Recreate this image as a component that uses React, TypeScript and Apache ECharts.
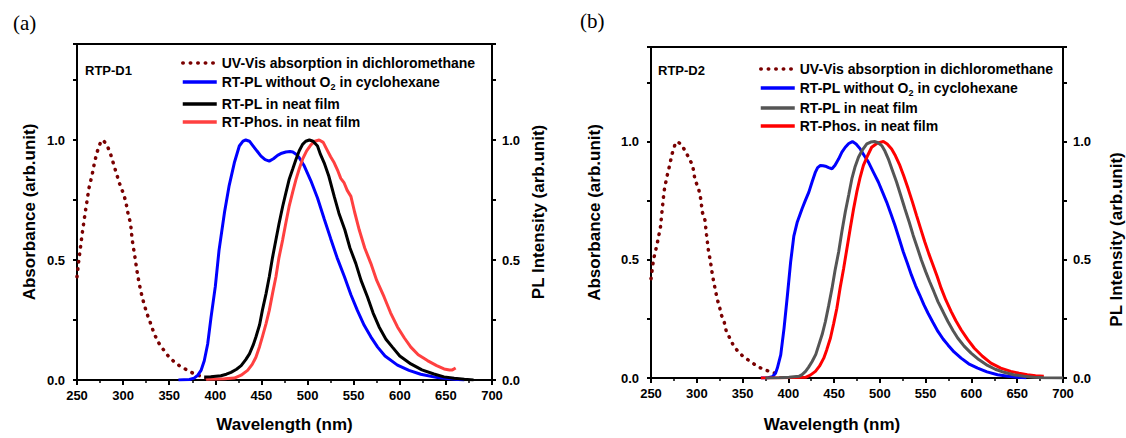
import { useEffect, useRef } from 'react';
import * as echarts from 'echarts';

// ---------- tick labels / names ----------
const yTickLabels = ['0.0', '0.5', '1.0'];
const legendNames = [
  'UV-Vis absorption in dichloromethane',
  'RT-PL without O2 in cyclohexane',
  'RT-PL in neat film',
  'RT-Phos. in neat film',
];
const panelLabels = ['(a)', '(b)'];
const sampleNames = ['RTP-D1', 'RTP-D2'];

// ---------- panel (a) data ----------
const aUvX = [250, 252, 254, 256, 259, 263, 266.4, 269, 271.5, 274, 276, 278, 281.5, 284, 286.5, 292, 296, 300, 302.8, 306, 308, 309.8, 312.5, 314.8, 317.5, 321, 324, 326, 328.5, 331, 334, 339, 343, 348.5, 355, 362, 370, 377.5, 384, 390];
const aUvY = [0.43, 0.5, 0.56, 0.62, 0.7, 0.8, 0.855, 0.906, 0.946, 0.975, 0.995, 1.0, 0.985, 0.965, 0.94, 0.87, 0.82, 0.78, 0.745, 0.68, 0.656, 0.585, 0.52, 0.46, 0.4, 0.34, 0.3, 0.275, 0.25, 0.222, 0.19, 0.152, 0.13, 0.102, 0.077, 0.057, 0.04, 0.025, 0.016, 0.008];

const aBlueX = [360, 372, 377, 381, 384.5, 388, 391.7, 395.3, 400, 404, 410, 415, 420.6, 426, 430, 433, 437, 440, 445, 449.5, 454, 458.5, 463, 467.5, 472, 476.5, 481, 484, 488, 491, 496, 503.6, 510.8, 518, 525, 532, 540, 547, 554, 561.4, 568.6, 576, 584, 597.5, 610, 622.7, 640.8, 660, 670];
const aBlueY = [0, 0.002, 0.008, 0.02, 0.04, 0.08, 0.15, 0.26, 0.39, 0.54, 0.7, 0.81, 0.905, 0.975, 0.995, 1.0, 0.995, 0.98, 0.955, 0.933, 0.918, 0.912, 0.922, 0.936, 0.945, 0.95, 0.952, 0.95, 0.94, 0.926, 0.895, 0.83, 0.758, 0.672, 0.59, 0.51, 0.43, 0.355, 0.29, 0.228, 0.18, 0.137, 0.1, 0.062, 0.04, 0.024, 0.01, 0.003, 0];

const aBlackX = [388, 395, 406, 412, 417, 423, 428, 433, 437, 441, 444, 448, 451, 455, 458.5, 462, 465.7, 469, 473, 476.5, 480, 484, 487.4, 491, 494.6, 498, 502, 506, 510.8, 514, 518, 523, 528.9, 534, 540.4, 546, 552.3, 558, 565, 571, 577.6, 585, 592, 600, 612, 624, 637, 648, 659, 670, 680];
const aBlackY = [0.012, 0.014, 0.018, 0.024, 0.032, 0.045, 0.06, 0.085, 0.109, 0.145, 0.179, 0.23, 0.29, 0.36, 0.43, 0.51, 0.584, 0.65, 0.723, 0.78, 0.835, 0.88, 0.919, 0.955, 0.982, 0.995, 1.0, 0.995, 0.975, 0.94, 0.905, 0.85, 0.765, 0.695, 0.626, 0.55, 0.486, 0.415, 0.346, 0.28, 0.221, 0.17, 0.137, 0.1, 0.067, 0.042, 0.025, 0.013, 0.007, 0.003, 0];

const aRedX = [390, 400, 410, 420.6, 428, 435, 440, 444, 448, 451, 455, 458.5, 462, 465.7, 469, 473, 476.5, 480, 484, 487.4, 491, 494.6, 499, 503.6, 508, 512.6, 517, 521, 525, 528.9, 533, 536, 539.7, 543, 547, 551, 556, 562, 568.6, 575, 583, 590, 597.5, 605, 612, 620, 630, 640, 648, 654, 657, 660.6];
const aRedY = [0.003, 0.004, 0.005, 0.008, 0.02, 0.04, 0.065, 0.095, 0.14, 0.18, 0.235, 0.29, 0.36, 0.43, 0.51, 0.584, 0.655, 0.723, 0.785, 0.835, 0.88, 0.92, 0.955, 0.98, 0.995, 1.0, 0.99, 0.96, 0.93, 0.905, 0.87, 0.84, 0.821, 0.79, 0.765, 0.7, 0.626, 0.55, 0.486, 0.415, 0.346, 0.28, 0.221, 0.175, 0.137, 0.105, 0.081, 0.06, 0.046, 0.042, 0.042, 0.05];

// ---------- panel (b) data ----------
const bUvX = [250, 252.7, 256.5, 260.4, 262.4, 264.3, 267, 270, 273.2, 276, 278.6, 282.5, 287.5, 291.4, 295.4, 298, 302, 304.2, 306.2, 308.9, 310.7, 312.8, 314.6, 317.3, 320.5, 322.4, 325, 326.9, 330, 332, 336, 340, 345.4, 351.4, 359.2, 367, 375.5, 382.5, 390];
const bUvY = [0.42, 0.5, 0.563, 0.64, 0.72, 0.79, 0.845, 0.894, 0.95, 0.985, 1.0, 0.99, 0.96, 0.93, 0.9, 0.84, 0.8, 0.76, 0.7, 0.668, 0.605, 0.536, 0.5, 0.431, 0.368, 0.333, 0.298, 0.266, 0.236, 0.201, 0.169, 0.138, 0.11, 0.089, 0.068, 0.047, 0.033, 0.024, 0.015];

const bBlueX = [370, 378, 382.6, 386, 388, 391.7, 395.3, 399, 402.5, 406, 409.8, 415, 418.5, 422.4, 426, 429.6, 432, 435, 438, 440.5, 444, 447.7, 451, 455, 458.5, 462.2, 466, 470, 474, 478.5, 483, 487.5, 493, 498.3, 503, 507.4, 512, 516.4, 521, 525.5, 530, 534.5, 539, 543.5, 548, 552.6, 558, 563.4, 569, 574.3, 581, 588.7, 597, 606.8, 617, 628.5, 640, 650, 660];
const bBlueY = [0, 0.001, 0.005, 0.02, 0.042, 0.098, 0.21, 0.35, 0.49, 0.6, 0.66, 0.716, 0.75, 0.786, 0.83, 0.871, 0.89, 0.899, 0.898, 0.896, 0.89, 0.885, 0.9, 0.927, 0.955, 0.976, 0.992, 1.0, 0.99, 0.969, 0.94, 0.913, 0.87, 0.829, 0.785, 0.744, 0.695, 0.646, 0.59, 0.534, 0.485, 0.435, 0.39, 0.351, 0.31, 0.274, 0.235, 0.197, 0.165, 0.14, 0.11, 0.084, 0.06, 0.042, 0.026, 0.014, 0.007, 0.003, 0.001];

const bGreyX = [375, 390, 400.7, 411.6, 415, 418.8, 422, 426, 430, 433.3, 437, 440.5, 444, 447.7, 451, 455, 458.5, 462.2, 466, 469.4, 473, 476.6, 481, 485.7, 490, 494.7, 498, 502, 505.5, 509.2, 513.5, 518.2, 523, 527.3, 532, 536.3, 541, 545.3, 550, 554.4, 559, 563.4, 569, 574.3, 580, 585, 592, 599.6, 608, 617.6, 626, 635.7, 646, 657.4, 668, 679, 700];
const bGreyY = [0, 0.001, 0.003, 0.007, 0.014, 0.028, 0.045, 0.07, 0.1, 0.14, 0.185, 0.239, 0.305, 0.379, 0.455, 0.534, 0.62, 0.702, 0.775, 0.843, 0.895, 0.934, 0.965, 0.99, 0.998, 1.0, 0.995, 0.983, 0.96, 0.927, 0.88, 0.829, 0.77, 0.716, 0.66, 0.604, 0.55, 0.499, 0.45, 0.407, 0.365, 0.323, 0.28, 0.239, 0.2, 0.169, 0.135, 0.105, 0.078, 0.053, 0.037, 0.024, 0.014, 0.007, 0.003, 0.001, 0];

const bRedX = [370, 390, 405, 418.8, 424, 429.6, 434, 438.7, 442, 446, 449.5, 453, 456.5, 460.4, 464, 467.6, 471, 474.8, 478.5, 482, 486.5, 491, 497, 503.8, 508, 512.8, 517, 521.8, 526, 530.9, 535.5, 540, 544.5, 549, 553.5, 558, 562.5, 567, 572, 577.9, 583, 588.7, 596, 603.2, 612, 621.3, 632, 643, 652, 661, 670, 679];
const bRedY = [0, 0.001, 0.002, 0.003, 0.012, 0.028, 0.05, 0.084, 0.12, 0.169, 0.23, 0.295, 0.38, 0.463, 0.548, 0.632, 0.71, 0.787, 0.85, 0.899, 0.94, 0.976, 0.993, 1.0, 0.99, 0.969, 0.94, 0.899, 0.855, 0.8, 0.745, 0.688, 0.632, 0.576, 0.525, 0.478, 0.43, 0.379, 0.33, 0.281, 0.242, 0.204, 0.162, 0.126, 0.092, 0.063, 0.042, 0.028, 0.02, 0.014, 0.01, 0.007];

const FONT = '"Liberation Sans", Arial, Helvetica, sans-serif';
const SERIF = '"Liberation Serif", "Times New Roman", serif';

const zip = (xs: number[], ys: number[]) => xs.map((x, i) => [x, ys[i]]);

export default function App() {
  const ref = useRef<HTMLDivElement>(null);

  useEffect(() => {
    if (!ref.current) return;
    const chart = echarts.init(ref.current, undefined, { renderer: 'svg' });

    const grids = [
      { left: 77, top: 44, width: 415, height: 337 },
      { left: 651, top: 47, width: 415, height: 336 },
    ];

    const xAxis = [0, 1].map((g) => ({
      type: 'value',
      gridIndex: g,
      min: 250,
      max: 700,
      interval: 50,
      axisLine: { show: true, onZero: false, lineStyle: { color: '#000', width: 2 } },
      axisTick: { show: true, inside: false, length: 5, lineStyle: { color: '#000', width: 2 } },
      minorTick: { show: true, splitNumber: 2, length: 3, lineStyle: { color: '#000', width: 1.5 } },
      splitLine: { show: false },
      axisLabel: { color: '#000', fontWeight: 'bold', fontSize: 13, fontFamily: FONT, margin: 9 },
      name: 'Wavelength (nm)',
      nameLocation: 'middle',
      nameGap: g === 0 ? 36 : 38,
      nameTextStyle: {
        color: '#000',
        fontWeight: 'bold',
        fontSize: 17,
        fontFamily: FONT,
        padding: g === 0 ? 0 : [0, 50, 0, 0],
      },
    }));

    const yFormatter = (v: number) => {
      const k = v * 2;
      if (Math.abs(k - Math.round(k)) < 1e-6) {
        const idx = Math.round(k);
        return yTickLabels[idx] ?? '';
      }
      return '';
    };

    const mkY = (g: number, pos: 'left' | 'right', name: string, gap: number, pad: any) => ({
      type: 'value',
      gridIndex: g,
      position: pos,
      min: 0,
      max: 1.4,
      interval: 0.25,
      axisLine: { show: true, onZero: false, lineStyle: { color: '#000', width: 2 } },
      axisTick: { show: true, inside: false, length: 4, lineStyle: { color: '#000', width: 2 } },
      splitLine: { show: false },
      axisLabel: {
        color: '#000',
        fontWeight: 'bold',
        fontSize: 13,
        fontFamily: FONT,
        margin: pos === 'left' ? 12 : 10,
        formatter: yFormatter,
      },
      name,
      nameLocation: 'middle',
      nameGap: gap,
      nameTextStyle: { color: '#000', fontWeight: 'bold', fontSize: 17, fontFamily: FONT, padding: pad },
    });

    const yAxis = [
      mkY(0, 'left', 'Absorbance (arb.unit)', 39, 0),
      mkY(0, 'right', 'PL Intensity (arb.unit)', 38, 0),
      mkY(1, 'left', 'Absorbance (arb.unit)', 48, 0),
      mkY(1, 'right', 'PL Intensity (arb.unit)', 45, [0, 54, 0, 0]),
    ];

    const dotted = (color: string) => ({
      color,
      width: 3.5,
      type: [0.5, 7],
      cap: 'round',
    });
    const solid = (color: string) => ({ color, width: 3, type: 'solid' });

    const mk = (name: string, g: number, yIdx: number, data: number[][], lineStyle: any, z: number) => ({
      type: 'line',
      name,
      xAxisIndex: g,
      yAxisIndex: yIdx,
      data,
      showSymbol: false,
      symbol: 'none',
      smooth: false,
      lineStyle,
      itemStyle: { color: lineStyle.color },
      z,
      silent: true,
    });

    const series = [
      mk('a:' + legendNames[0], 0, 0, zip(aUvX, aUvY), dotted('#7a0000'), 2),
      mk('a:' + legendNames[1], 0, 1, zip(aBlueX, aBlueY), solid('#0000ff'), 3),
      mk('a:' + legendNames[3], 0, 1, zip(aRedX, aRedY), solid('#ff4040'), 4),
      mk('a:' + legendNames[2], 0, 1, zip(aBlackX, aBlackY), solid('#000000'), 5),
      mk('b:' + legendNames[0], 1, 2, zip(bUvX, bUvY), dotted('#7a0000'), 2),
      mk('b:' + legendNames[1], 1, 3, zip(bBlueX, bBlueY), solid('#0000ff'), 3),
      mk('b:' + legendNames[3], 1, 3, zip(bRedX, bRedY), solid('#ff0000'), 4),
      mk('b:' + legendNames[2], 1, 3, zip(bGreyX, bGreyY), solid('#555555'), 5),
    ];
    const aLegendRows = [63, 82, 104, 122];
    const bLegendRows = [69, 88, 108, 126];

    const legendFormatter = (n: string) => {
      const s = n.slice(2);
      if (s === legendNames[1]) return 'RT-PL without O{sub|2} in cyclohexane';
      return s;
    };

    const mkLegend = (prefix: string, idx: number, left: number, centerY: number) => ({
      show: true,
      data: [prefix + legendNames[idx]],
      left,
      top: centerY - 9,
      orient: 'horizontal',
      padding: 0,
      itemWidth: 34,
      itemHeight: 14,
      itemGap: 0,
      selectedMode: false,
      itemStyle: { opacity: 0, borderWidth: 0 },
      lineStyle: { width: idx === 0 ? 3.5 : 3.5 },
      formatter: legendFormatter,
      textStyle: {
        color: '#000',
        fontWeight: 'bold',
        fontSize: 14,
        fontFamily: FONT,
        lineHeight: 18,
        rich: {
          sub: {
            color: '#000',
            fontWeight: 'bold',
            fontSize: 9,
            fontFamily: FONT,
            verticalAlign: 'bottom',
          },
        },
      },
    });

    const legend = [
      ...[0, 1, 2, 3].map((i) => mkLegend('a:', i, 181, aLegendRows[i])),
      ...[0, 1, 2, 3].map((i) => mkLegend('b:', i, 759, bLegendRows[i])),
    ];

    const graphic = [
      {
        type: 'text',
        left: 13,
        top: 12,
        style: { text: panelLabels[0], fontSize: 21, fontFamily: SERIF, fill: '#000' },
      },
      {
        type: 'text',
        left: 580,
        top: 10,
        style: { text: panelLabels[1], fontSize: 21, fontFamily: SERIF, fill: '#000' },
      },
      {
        type: 'text',
        left: 85,
        top: 64,
        style: { text: sampleNames[0], fontSize: 13, fontWeight: 'bold', fontFamily: FONT, fill: '#000' },
      },
      {
        type: 'text',
        left: 658,
        top: 64,
        style: { text: sampleNames[1], fontSize: 13, fontWeight: 'bold', fontFamily: FONT, fill: '#000' },
      },
    ];

    chart.setOption({
      animation: false,
      backgroundColor: '#fff',
      grid: grids.map((g) => ({
        ...g,
        show: true,
        borderColor: '#000',
        borderWidth: 2,
        backgroundColor: 'transparent',
        containLabel: false,
      })),
      xAxis,
      yAxis,
      series,
      legend,
      graphic,
    } as any);

    return () => chart.dispose();
  }, []);

  return (
    <div
      ref={ref}
      style={{ position: 'fixed', left: 0, top: 0, width: 1126, height: 438, background: '#fff' }}
    />
  );
}
